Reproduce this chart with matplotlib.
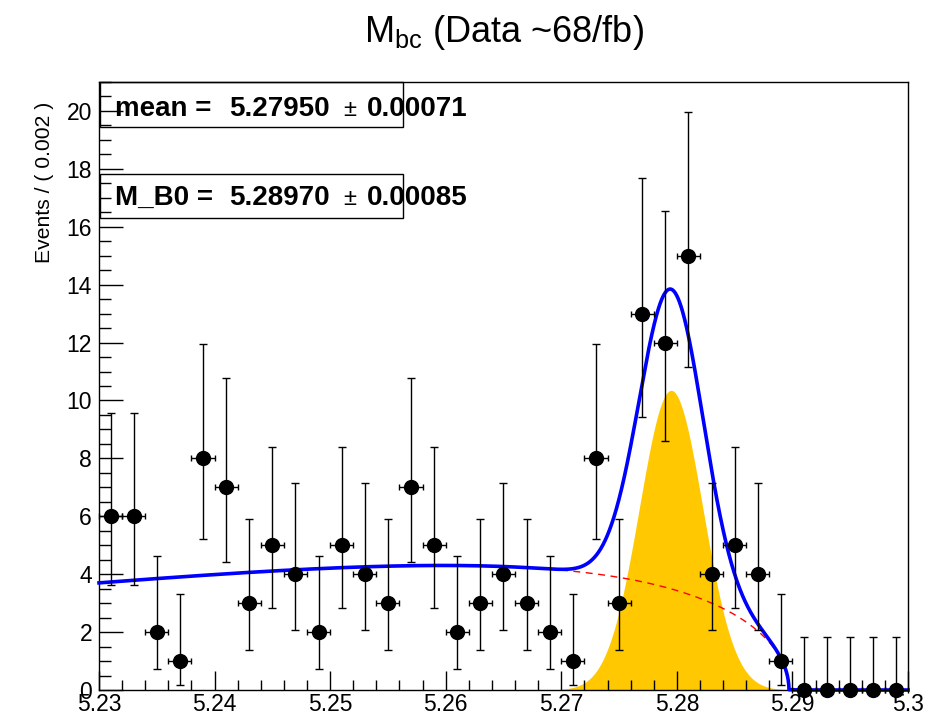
import math
import numpy as np
import matplotlib
matplotlib.use("Agg")
import matplotlib.pyplot as plt
from matplotlib.patches import Rectangle
from matplotlib.ticker import MultipleLocator, FixedLocator, FixedFormatter

plt.rcParams['font.family'] = ['Liberation Sans', 'DejaVu Sans']
plt.rcParams['mathtext.fontset'] = 'custom'
plt.rcParams['mathtext.rm'] = 'Liberation Sans'

# binned Mbc data, 0.002 GeV bins from 5.23 to 5.30
bin_width = 0.002
bin_centers = np.round(np.arange(5.231, 5.300, bin_width), 4)
counts = [6, 6, 2, 1, 8, 7, 3, 5, 4, 2,
          5, 4, 3, 7, 5, 2, 3, 4, 3, 2,
          1, 8, 3, 13, 12, 15, 4, 5, 4, 1,
          0, 0, 0, 0, 0]

# fit result
sig_mean = 5.27950
sig_mean_err = 0.00071
sig_sigma = 0.00275
sig_peak = 10.35
argus_m0 = 5.28970
argus_m0_err = 0.00085
argus_c = -43.8
bkg_at_low = 3.7

x_ticks = [5.23, 5.24, 5.25, 5.26, 5.27, 5.28, 5.29, 5.30]
x_tick_labels = ["5.23", "5.24", "5.25", "5.26", "5.27", "5.28", "5.29", "5.3"]


def poisson_cdf(k, mu):
    return sum(math.exp(-mu) * mu ** i / math.factorial(i) for i in range(k + 1))


def poisson_interval(n, cl=0.682689):
    a = (1 - cl) / 2
    lo = 0.0
    if n > 0:
        l, h = 0.0, float(n)
        for _ in range(60):
            mid = 0.5 * (l + h)
            if 1 - poisson_cdf(n - 1, mid) < a:
                l = mid
            else:
                h = mid
        lo = 0.5 * (l + h)
    l, h = float(n), n + 10 * math.sqrt(n + 1) + 10
    for _ in range(60):
        mid = 0.5 * (l + h)
        if poisson_cdf(n, mid) > a:
            l = mid
        else:
            h = mid
    return lo, 0.5 * (l + h)


def argus(m):
    z = 1 - (m / argus_m0) ** 2
    out = np.zeros_like(m)
    ok = z > 0
    out[ok] = m[ok] * np.sqrt(z[ok]) * np.exp(argus_c * z[ok])
    return out


err_lo, err_hi = [], []
for n in counts:
    lo, hi = poisson_interval(n)
    err_lo.append(n - lo)
    err_hi.append(hi - n)

m = np.sort(np.append(np.linspace(5.23, 5.30, 3000), [argus_m0, argus_m0 - 1e-7]))
bkg = argus(m) * bkg_at_low / argus(np.array([5.23]))[0]
sig = sig_peak * np.exp(-0.5 * ((m - sig_mean) / sig_sigma) ** 2)
total = bkg + sig

W, H = 943, 715
fig = plt.figure(figsize=(W / 100, H / 100), dpi=100)
ax = fig.add_axes([99 / W, 1 - 690 / H, (908 - 99) / W, (690 - 82) / H])

ax.fill_between(m, 0, sig, color='#ffc800', linewidth=0, zorder=1)
ax.plot(m, bkg, color='red', lw=1.0, ls=(0, (5, 4)), zorder=2)
ax.plot(m, total, color='#0000ff', lw=2.6, zorder=3, clip_on=False)

ax.errorbar(bin_centers, counts, yerr=[err_lo, err_hi], fmt='none',
            ecolor='black', elinewidth=1.0, capsize=3.0, capthick=1.0, zorder=4)
ax.errorbar(bin_centers, counts, xerr=bin_width / 2, fmt='o', color='black',
            markersize=10, elinewidth=1.0, capsize=2.2, capthick=1.0, zorder=5,
            clip_on=False)

ax.set_xlim(5.23, 5.30)
ax.set_ylim(0, 21)
ax.xaxis.set_major_locator(FixedLocator(x_ticks))
ax.xaxis.set_major_formatter(FixedFormatter(x_tick_labels))
ax.xaxis.set_minor_locator(MultipleLocator(0.002))
ax.yaxis.set_major_locator(MultipleLocator(2))
ax.yaxis.set_minor_locator(MultipleLocator(0.5))
ax.tick_params(which='both', direction='in', top=False, right=False,
               width=1.0, labelsize=16.5)
ax.tick_params(axis='x', which='major', length=14, pad=2)
ax.tick_params(axis='x', which='minor', length=7)
ax.tick_params(axis='y', which='major', length=17, pad=5)
ax.tick_params(axis='y', which='minor', length=8.5)
for s in ax.spines.values():
    s.set_linewidth(1.0)

fig.text(503.5 / W, 1 - 33 / H, r"M$_{\mathrm{bc}}$ (Data ~68/fb)",
         ha='center', va='center', fontsize=26)
fig.text(45 / W, 1 - 102 / H, "Events / ( 0.002 )", rotation=90,
         ha='center', va='top', fontsize=15.2)

# parameter boxes: name, value, "±", error laid out in columns
for label, val, err, y0, y1, ybase in [
        ("mean =", sig_mean, sig_mean_err, 82, 127, 116),
        ("M_B0 =", argus_m0, argus_m0_err, 174, 218, 205)]:
    yb = 1 - ybase / H
    fig.text(115 / W, yb, label, ha='left', va='baseline',
             fontsize=20, fontweight='bold')
    fig.text(229 / W, yb, f"{val:.5f}", ha='left', va='baseline',
             fontsize=20, fontweight='bold')
    fig.text(343 / W, yb, "±", ha='left', va='baseline', fontsize=17)
    fig.text(367 / W, yb, f"{err:.5f}", ha='left', va='baseline',
             fontsize=20, fontweight='bold')
    fig.patches.append(Rectangle((100 / W, 1 - y1 / H), 303 / W, (y1 - y0) / H,
                                 transform=fig.transFigure, fill=False,
                                 edgecolor='black', lw=1.0, zorder=10))

fig.savefig("out.png", dpi=100)
